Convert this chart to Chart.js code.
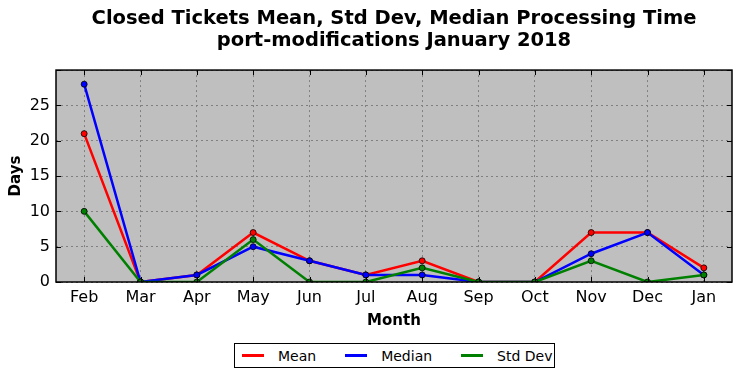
<!DOCTYPE html>
<html>
<head>
<meta charset="utf-8">
<script src="https://cdn.jsdelivr.net/npm/chart.js@4/dist/chart.umd.min.js"></script>
<style>
  body { margin: 0; background: #fff; font-family: "DejaVu Sans", sans-serif; }
  #wrap { position: relative; width: 742px; height: 378px; }
  #legend {
    position: absolute; left: 234px; top: 343px; width: 319px; height: 23px;
    border: 1px solid #000; background: #fff;
    display: flex; align-items: center; font-size: 14px; color: #000; white-space: nowrap;
  }
  .item { display: flex; align-items: center; margin-left: 29px; }
  .item:first-child { margin-left: 7px; }
  .swatch { width: 22px; height: 0; border-top: 3px solid; margin-right: 14px; }
</style>
</head>
<body>
<div id="wrap">
  <canvas id="chart" width="742" height="378"></canvas>
  <div id="legend"></div>
</div>
<script>
// Chart data
const months = ['Feb', 'Mar', 'Apr', 'May', 'Jun', 'Jul', 'Aug', 'Sep', 'Oct', 'Nov', 'Dec', 'Jan'];
const meanDays = [21, 0, 1, 7, 3, 1, 3, 0, 0, 7, 7, 2];
const medianDays = [28, 0, 1, 5, 3, 1, 1, 0, 0, 4, 7, 1];
const stdDevDays = [10, 0, 0, 6, 0, 0, 2, 0, 0, 3, 0, 1];
const yMax = 30;
const yStep = 5;

const seriesNames = ['Mean', 'Median', 'Std Dev'];
const seriesColors = ['#ff0000', '#0000ff', '#008000'];

const font = 'DejaVu Sans';

function makeDataset(i, values, order) {
  return {
    label: seriesNames[i],
    data: values,
    borderColor: seriesColors[i],
    backgroundColor: seriesColors[i],
    borderWidth: 2.5,
    pointRadius: 3,
    pointBorderColor: '#000',
    pointBorderWidth: 0.8,
    tension: 0,
    order: order
  };
}

// grey plot background, black frame and inward ticks
const framePlugin = {
  id: 'frame',
  beforeDraw(chart) {
    const a = chart.chartArea;
    const ctx = chart.ctx;
    ctx.save();
    ctx.fillStyle = '#bfbfbf';
    ctx.fillRect(a.left, a.top, a.right - a.left, a.bottom - a.top);
    ctx.restore();
  },
  afterDraw(chart) {
    const a = chart.chartArea;
    const ctx = chart.ctx;
    const x = chart.scales.x;
    const y = chart.scales.y;
    ctx.save();
    ctx.strokeStyle = '#000';
    ctx.lineWidth = 1;
    ctx.beginPath();
    x.ticks.forEach((t, i) => {
      const px = Math.round(x.getPixelForTick(i)) + 0.5;
      ctx.moveTo(px, a.bottom); ctx.lineTo(px, a.bottom - 5);
      ctx.moveTo(px, a.top); ctx.lineTo(px, a.top + 5);
    });
    y.ticks.forEach((t, i) => {
      const py = Math.round(y.getPixelForTick(i)) + 0.5;
      ctx.moveTo(a.left, py); ctx.lineTo(a.left + 5, py);
      ctx.moveTo(a.right, py); ctx.lineTo(a.right - 5, py);
    });
    ctx.stroke();
    ctx.lineWidth = 1.5;
    ctx.strokeRect(a.left, a.top, a.right - a.left, a.bottom - a.top);
    ctx.restore();
  }
};

const chart = new Chart(document.getElementById('chart'), {
  type: 'line',
  data: {
    labels: months,
    datasets: [
      makeDataset(0, meanDays, 2),
      makeDataset(1, medianDays, 1),
      makeDataset(2, stdDevDays, 0)
    ]
  },
  options: {
    responsive: false,
    animation: false,
    layout: { padding: { left: 0, right: 10, top: 0, bottom: 46 } },
    plugins: {
      legend: { display: false },
      tooltip: { enabled: false },
      title: {
        display: true,
        fullSize: false,
        text: ['Closed Tickets Mean, Std Dev, Median Processing Time', 'port-modifications January 2018'],
        color: '#000',
        font: { family: font, size: 19.5, weight: 'bold', lineHeight: 1.13 },
        padding: { top: 8, bottom: 18 }
      }
    },
    scales: {
      x: {
        offset: true,
        grid: { color: '#808080', drawTicks: false, offset: false },
        border: { display: false, dash: [2, 3] },
        ticks: { color: '#000', padding: 6, font: { family: font, size: 16 } },
        title: {
          display: true, text: 'Month', color: '#000',
          font: { family: font, size: 15, weight: 'bold' },
          padding: { top: 4, bottom: 2 }
        },
        afterFit(scale) { scale.height = 50; }
      },
      y: {
        min: 0,
        max: yMax,
        grid: { color: '#808080', drawTicks: false },
        border: { display: false, dash: [2, 3] },
        ticks: {
          stepSize: yStep,
          color: '#000',
          padding: 6,
          font: { family: font, size: 16 },
          callback: v => (v === yMax ? '' : v)
        },
        title: {
          display: true, text: 'Days', color: '#000',
          font: { family: font, size: 15, weight: 'bold' },
          padding: { top: 7, bottom: 4 }
        },
        afterFit(scale) { scale.width = 56; }
      }
    }
  },
  plugins: [framePlugin]
});

// legend under the chart
const legend = document.getElementById('legend');
chart.data.datasets.forEach(ds => {
  const item = document.createElement('div');
  item.className = 'item';
  const sw = document.createElement('span');
  sw.className = 'swatch';
  sw.style.borderColor = ds.borderColor;
  const label = document.createElement('span');
  label.textContent = ds.label;
  item.appendChild(sw);
  item.appendChild(label);
  legend.appendChild(item);
});
</script>
</body>
</html>
